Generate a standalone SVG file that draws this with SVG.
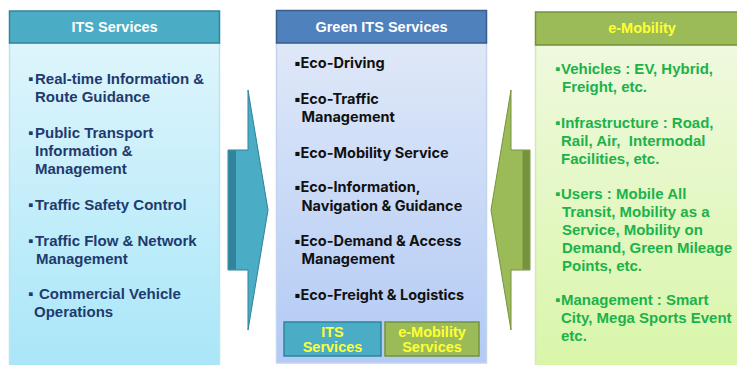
<svg xmlns="http://www.w3.org/2000/svg" width="737" height="365" viewBox="0 0 737 365">
<style>
.hdr{font-family:"Liberation Sans",Arial,sans-serif;font-weight:bold;font-size:14.5px;text-anchor:middle}
.lt{font-family:"Liberation Sans",Arial,sans-serif;font-weight:bold;font-size:15px;fill:#1F3A6E}
.ct{font-family:Inter,"Liberation Sans",sans-serif;font-weight:bold;font-size:14.5px;fill:#111}
.rt{font-family:"Liberation Sans",Arial,sans-serif;font-weight:bold;font-size:15px;fill:#1CB24A}
.st{font-family:"Liberation Sans",Arial,sans-serif;font-weight:bold;font-size:14.5px;fill:#FFFF33;text-anchor:middle}
</style>
<defs>
<linearGradient id="gL" x1="0" y1="0" x2="0" y2="1"><stop offset="0" stop-color="#DEF5FC"/><stop offset="1" stop-color="#A8E6F8"/></linearGradient>
<linearGradient id="gC" x1="0" y1="0" x2="0" y2="1"><stop offset="0" stop-color="#DFE8F8"/><stop offset="1" stop-color="#B2CAF5"/></linearGradient>
<linearGradient id="gR" x1="0" y1="0" x2="0" y2="1"><stop offset="0" stop-color="#EFF9DE"/><stop offset="1" stop-color="#D8F6A8"/></linearGradient>
</defs>
<rect width="737" height="365" fill="#FFFFFF"/>

<g id="its-services">
<rect x="9.5" y="43" width="210" height="330" fill="url(#gL)" stroke="#BFE3EE" stroke-width="1.5"/>
<rect x="9.5" y="11" width="210" height="32" fill="#4BACC6" stroke="#31859C" stroke-width="1.5"/>
<text class="hdr" x="114.5" y="32" fill="#FFFFFF">ITS Services</text>
<text class="lt"><tspan x="28" y="84">▪</tspan><tspan x="35" y="84">Real-time Information &amp;</tspan><tspan x="35" y="102">Route Guidance</tspan></text>
<text class="lt"><tspan x="28" y="138">▪</tspan><tspan x="35" y="138">Public Transport</tspan><tspan x="35" y="156">Information &amp;</tspan><tspan x="35" y="174">Management</tspan></text>
<text class="lt"><tspan x="28" y="210">▪</tspan><tspan x="35" y="210">Traffic Safety Control</tspan></text>
<text class="lt"><tspan x="28" y="246">▪</tspan><tspan x="35" y="246">Traffic Flow &amp; Network</tspan><tspan x="36" y="264">Management</tspan></text>
<text class="lt"><tspan x="28" y="299">▪</tspan><tspan x="39" y="299">Commercial Vehicle</tspan><tspan x="34" y="317">Operations</tspan></text>
</g>

<g id="green-its-services">
<rect x="276.5" y="43" width="210" height="320" fill="url(#gC)" stroke="#C4D3EE" stroke-width="1.5"/>
<rect x="276.5" y="10.5" width="210" height="32.5" fill="#4F81BD" stroke="#385D8A" stroke-width="1.5"/>
<text class="hdr" x="381.5" y="32" fill="#FFFFFF">Green ITS Services</text>
<text class="ct"><tspan x="294" y="68">▪</tspan><tspan x="300.5" y="68">Eco-Driving</tspan></text>
<text class="ct"><tspan x="294" y="103.5">▪</tspan><tspan x="300.5" y="103.5">Eco-Traffic</tspan><tspan x="301.5" y="121.5">Management</tspan></text>
<text class="ct"><tspan x="294" y="158">▪</tspan><tspan x="300.5" y="158">Eco-Mobility Service</tspan></text>
<text class="ct"><tspan x="294" y="192">▪</tspan><tspan x="300.5" y="192">Eco-Information,</tspan><tspan x="301.5" y="211">Navigation &amp; Guidance</tspan></text>
<text class="ct"><tspan x="294" y="246">▪</tspan><tspan x="300.5" y="246">Eco-Demand &amp; Access</tspan><tspan x="301.5" y="264">Management</tspan></text>
<text class="ct"><tspan x="294" y="300">▪</tspan><tspan x="300.5" y="300">Eco-Freight &amp; Logistics</tspan></text>
</g>

<g id="its-services-mini">
<rect x="284" y="322" width="97" height="34" fill="#4BACC6" stroke="#31859C" stroke-width="1.5"/>
<text class="st" x="332.5" y="337">ITS</text>
<text class="st" x="332.5" y="352">Services</text>
</g>

<g id="emobility-services-mini">
<rect x="385" y="322" width="94" height="34" fill="#9BBB59" stroke="#76923C" stroke-width="1.5"/>
<text class="st" x="432" y="337">e-Mobility</text>
<text class="st" x="432" y="352">Services</text>
</g>

<g id="e-mobility">
<rect x="535.5" y="45" width="215" height="330" fill="url(#gR)" stroke="#D3E8B8" stroke-width="1.5"/>
<rect x="535.5" y="12" width="215" height="33" fill="#9BBB59" stroke="#76923C" stroke-width="1.5"/>
<text class="hdr" x="642" y="33" fill="#FFFF33">e-Mobility</text>
<text class="rt"><tspan x="555" y="74">▪</tspan><tspan x="561" y="74">Vehicles : EV, Hybrid,</tspan><tspan x="562" y="92">Freight, etc.</tspan></text>
<text class="rt"><tspan x="555" y="128">▪</tspan><tspan x="561" y="128">Infrastructure : Road,</tspan><tspan x="561" y="146">Rail, Air,&#160; Intermodal</tspan><tspan x="561" y="164">Facilities, etc.</tspan></text>
<text class="rt"><tspan x="555" y="199">▪</tspan><tspan x="561" y="199">Users : Mobile All</tspan><tspan x="562" y="217">Transit, Mobility as a</tspan><tspan x="562" y="235">Service, Mobility on</tspan><tspan x="562" y="253">Demand, Green Mileage</tspan><tspan x="562" y="271">Points, etc.</tspan></text>
<text class="rt"><tspan x="555" y="305">▪</tspan><tspan x="561" y="305">Management : Smart</tspan><tspan x="561" y="323">City, Mega Sports Event</tspan><tspan x="561" y="341">etc.</tspan></text>
</g>

<g id="connectors">
<g id="arrow-left">
<path d="M248,90 L268,210 L248,330 L248,270 L228,270 L228,150 L248,150 Z" fill="#4BACC6" stroke="#2F8297" stroke-width="1"/>
<rect x="228.5" y="150.5" width="7.5" height="119" fill="#31849B"/>
</g>
<g id="arrow-right">
<path d="M511,90 L491,210 L511,330 L511,270 L530,270 L530,150 L511,150 Z" fill="#9BBB59" stroke="#76923C" stroke-width="1"/>
<rect x="522.5" y="150.5" width="7" height="119" fill="#76923C"/>
</g>
</g>
</svg>
